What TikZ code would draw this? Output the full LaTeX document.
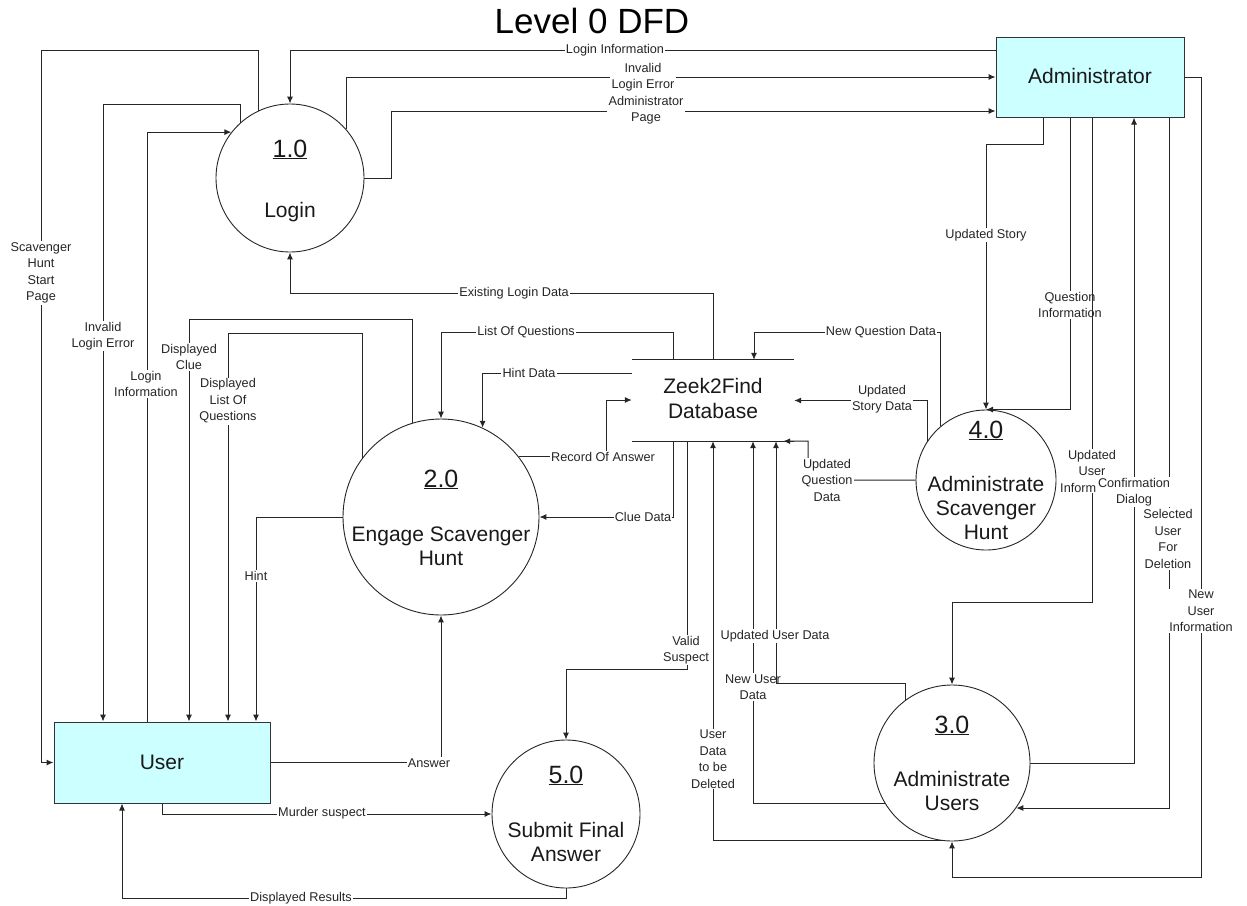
\documentclass[tikz,border=0pt]{standalone}
\usepackage{fontspec}
\setmainfont{Liberation Sans}
\usetikzlibrary{arrows.meta}
\definecolor{extfill}{HTML}{CCFFFF}
\begin{document}
\begin{tikzpicture}[x=1pt,y=-1pt,
  flow/.style={line width=1pt, draw=black!85, -{Latex[length=7pt,width=6pt]}},
  plain/.style={line width=1pt, draw=black!85},
  lbl/.style={fill=white, inner sep=1.2pt, align=center, font=\fontsize{12.7}{16.5}\selectfont, text=black!85},
  proc/.style={circle, draw=black!85, line width=0.9pt, inner sep=0pt},
  ext/.style={draw=black!80, line width=1pt, fill=extfill, inner sep=0pt},
  big/.style={font=\fontsize{21}{25}\selectfont, anchor=base, inner sep=0pt, text=black!90},
  num/.style={font=\fontsize{25}{28}\selectfont, anchor=base, inner sep=0pt, text=black!90},
]
\useasboundingbox (0,0) rectangle (1247,905);
\fill[white] (0,0) rectangle (1247,905);

% title
\node[font=\fontsize{35}{40}\selectfont, anchor=base, inner sep=0pt] (title) at (592,33) {Level 0 DFD};

% external entities
\node[ext, minimum width=188, minimum height=80] (admin) at (1090,77) {};
\node[big] (admintxt) at (1090,83) {Administrator};
\node[ext, minimum width=216, minimum height=81] (user) at (162,762.5) {};
\node[big] (usertxt) at (162,769) {User};

% processes
\node[proc, minimum size=148] (c1) at (290,178) {};
\node[num] (c1n) at (290,157) {\underline{1.0}};
\node[big] (c1t) at (290,217) {Login};

\node[proc, minimum size=196] (c2) at (441,517) {};
\node[num] (c2n) at (441,487) {\underline{2.0}};
\node[big] (c2t) at (441,541) {Engage Scavenger};
\node[big] (c2u) at (441,565) {Hunt};

\node[proc, minimum size=156] (c3) at (952,763) {};
\node[num] (c3n) at (952,733) {\underline{3.0}};
\node[big] (c3t) at (952,786) {Administrate};
\node[big] (c3u) at (952,810) {Users};

\node[proc, minimum size=140] (c4) at (986,480) {};
\node[num] (c4n) at (986,438) {\underline{4.0}};
\node[big] (c4t) at (986,491) {Administrate};
\node[big] (c4u) at (986,515) {Scavenger};
\node[big] (c4v) at (986,539) {Hunt};

\node[proc, minimum size=148] (c5) at (566,814) {};
\node[num] (c5n) at (566,783) {\underline{5.0}};
\node[big] (c5t) at (566,837) {Submit Final};
\node[big] (c5u) at (566,861) {Answer};

% data store
\node[minimum width=162, minimum height=81, inner sep=0pt] (db) at (713,400.5) {};
\draw[plain] (db.north west) -- (db.north east);
\draw[plain] (db.south west) -- (db.south east);
\node[big] (dbt) at (713,393) {Zeek2Find};
\node[big] (dbu) at (713,418) {Database};

% 1 Scavenger Hunt Start Page
\draw[flow] (c1.115) |- (41,50) |- (user.west);
\node[lbl] (l1) at (41,273) {Scavenger\\Hunt\\Start\\Page};

% 2 Login Information (admin -> login)
\draw[flow] (admin.west |- 0,50) -| (c1.north);
\node[lbl] (l2) at (615,50) {Login Information};

% 3 Invalid Login Error (login -> admin)
\draw[flow] (c1.41) |- (admin.west);
\node[lbl] (l3) at (643,77) {Invalid\\Login Error};

% 4 Administrator Page
\draw[flow] (c1.east) -| (391,111) -- (admin.west |- 0,111);
\node[lbl] (l4) at (646,110) {Administrator\\Page};

% 5 Invalid Login Error (login -> user)
\draw[flow] (c1.132) |- (103,104) -- (103,0 |- user.north);
\node[lbl] (l5) at (103,336) {Invalid\\Login Error};

% 6 Login Information (user -> login)
\draw[flow] (147,0 |- user.north) |- (c1.142);
\node[lbl] (l6) at (146,384) {Login\\Information};

% 7 Existing Login Data
\draw[flow] (db.north) |- (290,293) -- (c1.south);
\node[lbl] (l7) at (514,293) {Existing Login Data};

% 8 Displayed Clue
\draw[flow] (c2.107) |- (189,319) -- (189,0 |- user.north);
\node[lbl] (l8) at (189,357) {Displayed\\Clue};

% 9 Displayed List Of Questions
\draw[flow] (c2.143) |- (228,333) -- (228,0 |- user.north);
\node[lbl] (l9) at (228,401) {Displayed\\List Of\\Questions};

% 10 Hint
\draw[flow] (c2.west) -| (256,0 |- user.north);
\node[lbl] (l10) at (256,576) {Hint};

% 11 List Of Questions
\draw[flow] (673,0 |- db.north) |- (441,332) -- (c2.north);
\node[lbl] (l11) at (526,332) {List Of Questions};

% 12 Hint Data
\draw[flow] (db.west |- 0,373) -| (c2.65);
\node[lbl] (l12) at (529,373) {Hint Data};

% 13 Record Of Answer
\draw[flow] (c2.38) -| (606,400) -- (db.west |- 0,400);
\node[lbl] (l13) at (603,457) {Record Of Answer};

% 14 Clue Data
\draw[flow] (673,0 |- db.south) |- (c2.east);
\node[lbl] (l14) at (643,517) {Clue Data};

% 15 Valid Suspect
\draw[flow] (687,0 |- db.south) |- (566,669) -- (c5.north);
\node[lbl] (l15) at (686,650) {Valid\\Suspect};

% 16 User Data to be Deleted
\draw[flow] (c3.-97) -| (713,0 |- db.south);
\node[lbl] (l16) at (713,759) {User\\Data\\to be\\Deleted};

% 17 New User Data
\draw[flow] (c3.211) -| (753,0 |- db.south);
\node[lbl] (l17) at (753,687) {New User\\Data};

% 18 Updated User Data
\draw[flow] (c3.126) |- (776,683) -- (776,0 |- db.south);
\node[lbl] (l18) at (775,636) {Updated User Data};

% 19 Updated Question Data
\draw[flow] (c4.west) -| (808,441) -- ([xshift=-11pt]db.south east);
\node[lbl] (l19) at (827,480) {Updated\\Question\\Data};

% 20 Updated Story Data
\draw[flow] (c4.146) |- (db.east);
\node[lbl] (l20) at (882,399) {Updated\\Story Data};

% 21 New Question Data
\draw[flow] (c4.130) |- (754,332) -- (754,0 |- db.north);
\node[lbl] (l21) at (881,332) {New Question Data};

% 22 Updated Story
\draw[flow] (1043,0 |- admin.south) |- (986,144) -- (c4.north);
\node[lbl] (l22) at (986,235) {Updated Story};

% 23 Question Information
\draw[flow] (1070,0 |- admin.south) |- (c4.north);
\node[lbl] (l23) at (1070,305) {Question\\Information};

% 24 Updated User Information (last line partly hidden, as printed)
\draw[flow] (1092,0 |- admin.south) |- (952,602) -- (c3.north);
\node[lbl] (l24) at (1092,471) {Updated\\User\\Inform\phantom{ation}};

% 26 Selected User For Deletion
\draw[flow] (1169,0 |- admin.south) |- (c3.-35);
\node[lbl] (l26) at (1168,539) {Selected\\User\\For\\Deletion};

% 25 Confirmation Dialog
\draw[flow] (c3.east) -| (1134,0 |- admin.south);
\node[lbl] (l25) at (1134,492) {Confirmation\\Dialog};

% 27 New User Information
\draw[flow] (admin.east) -| (1201,877) -| (c3.south);
\node[lbl] (l27) at (1201,611) {New\\User\\Information};

% 28 Answer
\draw[flow] (user.east) -| (c2.south);
\node[lbl] (l28) at (429,763) {Answer};

% 29 Murder suspect
\draw[flow] (162,0 |- user.south) |- (c5.west);
\node[lbl] (l29) at (322,813) {Murder suspect};

% 30 Displayed Results
\draw[flow] (c5.south) |- (122,898) -- (122,0 |- user.south);
\node[lbl] (l30) at (301,898) {Displayed Results};
\end{tikzpicture}
\end{document}
